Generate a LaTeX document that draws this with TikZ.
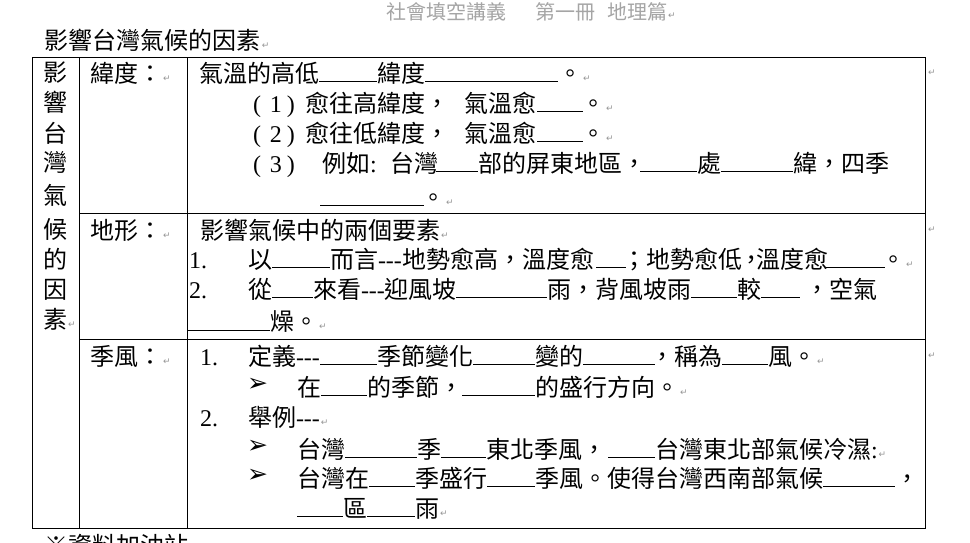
\documentclass[tikz,border=0pt]{standalone}
\usepackage{fontspec}
\newfontfamily\cjk{Noto Sans CJK TC}
\newfontfamily\tms{Liberation Serif}
\newfontfamily\dv{DejaVu Sans}
\definecolor{retgray}{RGB}{150,150,150}
\definecolor{headgray}{RGB}{165,165,165}
\newcommand\ret{{\dv\fontsize{9}{9}\selectfont\color{retgray}\kern1pt\raisebox{1pt}{↵}}}
\newcommand\tm[1]{{\tms #1}}
\newcommand\dsh{\tm{-\kern0pt-\kern0pt-}}
\newcommand\arr{{\dv\fontsize{25}{25}\selectfont ➢}}
\newcommand\PT[4]{\node[txt] (#1) at (#2,#3+9) {#4};}
\newcommand\BL[3]{\draw[blank] (#1,#3+8.5) -- (#2,#3+8.5);}
\tikzset{
  txt/.style={anchor=base west, inner sep=0pt, outer sep=0pt, font=\cjk\fontsize{24}{24}\selectfont},
  vch/.style={txt, anchor=base},
  hdr/.style={anchor=base west, inner sep=0pt, outer sep=0pt, text=headgray, font=\cjk\fontsize{20}{20}\selectfont},
  bul/.style={anchor=west, inner sep=0pt, outer sep=0pt},
  retn/.style={anchor=base west, inner sep=0pt, outer sep=0pt},
  tab/.style={line width=1pt, black},
  blank/.style={line width=0.9pt, black},
}
\begin{document}
\begin{tikzpicture}[x=1pt,y=-1pt]
\useasboundingbox (0,0) rectangle (970,542);
\clip (0,0) rectangle (970,542);
\fill[white] (0,0) rectangle (970,542);
% header
\node[hdr] (h1) at (386,19.6) {社會填空講義};
\node[hdr] (h2) at (535,19.6) {第一冊};
\node[hdr] (h3) at (607,19.6) {地理篇\ret};
% title
\PT{title}{45}{40}{影響台灣氣候的因素\ret}
% table
\draw[tab] (32,57) rectangle (925,528);
\draw[tab] (79,57) -- (79,528);
\draw[tab] (187,57) -- (187,528);
\draw[tab] (79,213) -- (925,213);
\draw[tab] (79,339) -- (925,339);
\node[retn] (e1) at (927,76) {\ret};
\node[retn] (e2) at (927,233) {\ret};
\node[retn] (e3) at (927,359) {\ret};
% left column
\node[vch] (v1) at (55,81) {影};
\node[vch] (v2) at (55,111) {響};
\node[vch] (v3) at (55,142) {台};
\node[vch] (v4) at (55,171) {灣};
\node[vch] (v5) at (55,204) {氣};
\node[vch] (v6) at (55,238) {候};
\node[vch] (v7) at (55,268) {的};
\node[vch] (v8) at (55,298) {因};
\node[vch] (v9) at (55,328) {素};
\node[retn] (v10) at (67,328) {\ret};
% second column
\PT{l1}{90}{73}{緯度：\ret}
\PT{l2}{90}{230}{地形：\ret}
\PT{l3}{90}{356}{季風：\ret}
% row 1
\PT{a1}{199}{73}{氣溫的高低}
\BL{319}{377}{73}
\PT{a2}{377}{73}{緯度}
\BL{425}{558}{73}
\PT{a3}{558}{73}{。\ret}
\PT{a4}{253}{103}{\tm{(\kern9pt1\kern5pt)}}
\PT{a5}{305}{103}{愈往高緯度，}
\PT{a6}{464}{103}{氣溫愈}
\BL{537}{583}{103}
\PT{a7}{581}{103}{。\ret}
\PT{a8}{253}{133}{\tm{(\kern9pt2\kern5pt)}}
\PT{a9}{305}{133}{愈往低緯度，}
\PT{a10}{464}{133}{氣溫愈}
\BL{537}{583}{133}
\PT{a11}{581}{133}{。\ret}
\PT{a12}{253}{163}{\tm{(\kern9pt3\kern5pt)}}
\PT{a13}{322}{163}{例如\tm{:}}
\PT{a14}{390}{163}{台灣}
\BL{436}{478}{163}
\PT{a15}{478}{163}{部的屏東地區，}
\BL{640}{697}{163}
\PT{a16}{697}{163}{處}
\BL{721}{793}{163}
\PT{a17}{793}{163}{緯，四季}
\BL{320}{424}{197}
\PT{a18}{421}{197}{。\ret}
% row 2
\PT{b1}{200}{230}{影響氣候中的兩個要素\ret}
\PT{b2}{189}{259}{\tm{1.}}
\PT{b3}{248}{259}{以}
\BL{272}{330}{259}
\PT{b4}{330}{259}{而言\dsh}
\PT{b5}{402}{259}{地勢愈高，}
\PT{b6}{522}{259}{溫度愈}
\BL{596}{626}{259}
\PT{b7}{622}{259}{；地勢愈低}
\PT{b8}{739}{259}{，}
\PT{b8a}{756}{259}{溫度愈}
\BL{826}{885}{259}
\PT{b9}{881}{259}{。\ret}
\PT{b10}{189}{289}{\tm{2.}}
\PT{b11}{248}{289}{從}
\BL{272}{313}{289}
\PT{b12}{313}{289}{來看\dsh 迎風坡}
\BL{456}{547}{289}
\PT{b13}{547}{289}{雨，背風坡雨}
\BL{691}{737}{289}
\PT{b14}{737}{289}{較}
\BL{761}{800}{289}
\PT{b15}{805}{289}{，空氣}
\BL{188}{270}{322}
\PT{b16}{270}{321}{燥。\ret}
% row 3
\PT{c1}{200}{356}{\tm{1.}}
\PT{c2}{248}{356}{定義\dsh}
\BL{320}{377}{356}
\PT{c3}{377}{356}{季節變化}
\BL{473}{535}{356}
\PT{c4}{535}{356}{變的}
\BL{583}{655}{356}
\PT{c5}{650}{356}{，稱為}
\BL{722}{768}{356}
\PT{c6}{768}{356}{風。\ret}
\node[bul] (c7) at (247,385) {\arr};
\PT{c8}{297}{387}{在}
\BL{321}{367}{387}
\PT{c9}{367}{387}{的季節，}
\BL{462}{535}{387}
\PT{c10}{535}{387}{的盛行方向。\ret}
\PT{c11}{200}{417}{\tm{2.}}
\PT{c12}{248}{417}{舉例\dsh\ret}
\node[bul] (c13) at (247,447) {\arr};
\PT{c14}{297}{449}{台灣}
\BL{345}{417}{449}
\PT{c15}{417}{449}{季}
\BL{441}{486}{449}
\PT{c16}{486}{449}{東北季風，}
\BL{608}{655}{449}
\PT{c17}{655}{449}{台灣東北部氣候冷濕\tm{:}\ret}
\node[bul] (c18) at (247,476) {\arr};
\PT{c19}{297}{478}{台灣在}
\BL{369}{415}{478}
\PT{c20}{415}{478}{季盛行}
\BL{487}{535}{478}
\PT{c21}{535}{478}{季風。使得台灣西南部氣候}
\BL{823}{895}{478}
\PT{c22}{895}{478}{，}
\BL{297}{343}{508}
\PT{c23}{343}{508}{區}
\BL{367}{415}{508}
\PT{c24}{415}{508}{雨\ret}
% footer (cut off at the page edge, as in the reference)
\PT{foot}{45}{545}{※資料加油站}
\end{tikzpicture}
\end{document}
